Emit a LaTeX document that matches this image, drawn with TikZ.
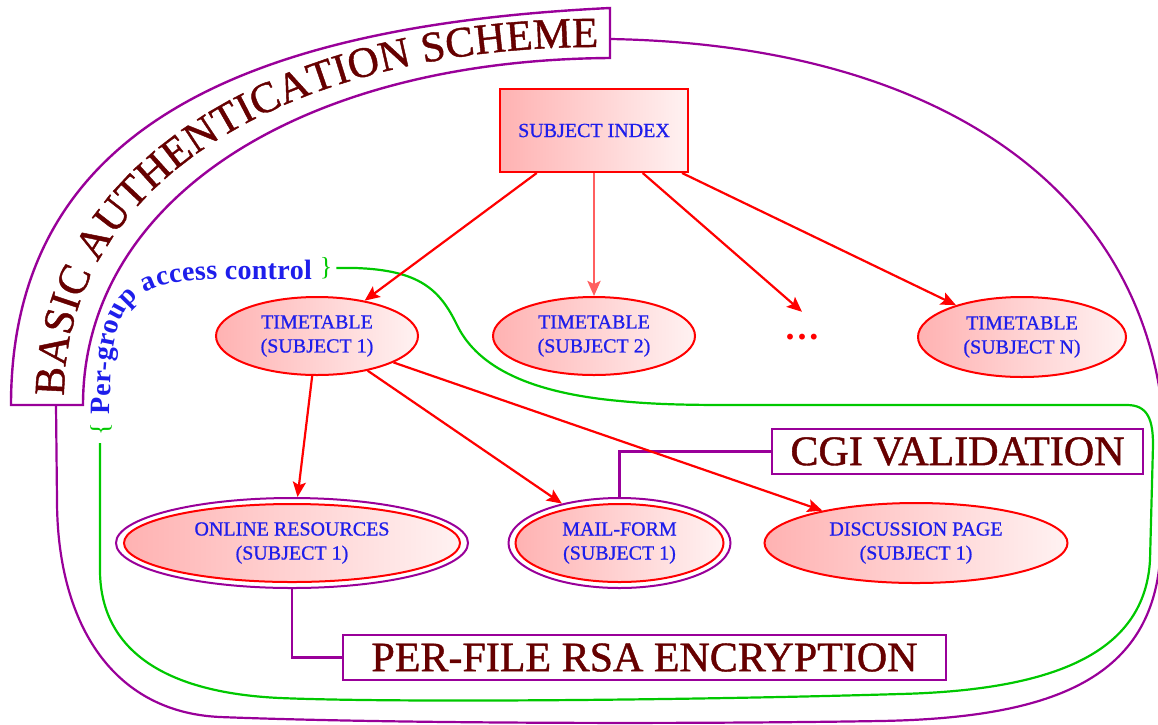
\documentclass[tikz,border=0pt]{standalone}
\usepackage{fontspec}
\setmainfont{Liberation Serif}
\newfontfamily\semibfont[FakeBold=0.8]{Liberation Serif}
\newfontfamily\heavyfont[FakeBold=1.0]{Liberation Serif}
\usetikzlibrary{arrows.meta,shapes.geometric,decorations.text}
\definecolor{myred}{RGB}{255,0,0}
\definecolor{lightarrow}{RGB}{255,95,95}
\definecolor{mypurple}{RGB}{153,0,153}
\definecolor{mygreen}{RGB}{0,200,0}
\definecolor{darkred}{RGB}{102,0,0}
\definecolor{txtblue}{RGB}{30,30,235}
\definecolor{pinkL}{RGB}{255,178,178}
\definecolor{pinkR}{RGB}{255,242,242}
\begin{document}
\begin{tikzpicture}[x=1pt,y={(0pt,-1pt)},
  nodetext/.style={text=txtblue, font=\semibfont\fontsize{20}{24}\selectfont, align=center},
  ellnode/.style={ellipse, draw=myred, line width=2pt, left color=pinkL, right color=pinkR, nodetext, inner sep=0pt},
  outerell/.style={ellipse, draw=mypurple, line width=2pt, fill=white, inner sep=0pt},
  arr/.style={draw=myred, line width=2.2pt, -{Stealth[length=15pt,width=13pt,inset=3pt]}},
  labelbox/.style={draw=mypurple, line width=2.4pt, text=darkred, font=\heavyfont\fontsize{42}{42}\selectfont, inner sep=0pt},
  plink/.style={draw=mypurple, line width=2.2pt},
  glink/.style={draw=mygreen, line width=2.2pt},
  brace/.style={text=mygreen, font=\fontsize{26}{26}\selectfont, inner sep=4pt}
]
\useasboundingbox (0,0) rectangle (1158,724);

% coordinates for free ends
\coordinate (bandR) at (610,39);
\coordinate (bandB) at (56,405);
\coordinate (gend) at (100,443);

% outer purple loop
\draw[plink] (bandR) .. controls (950,45) and (1160,200) .. (1165,450) -- (1160,560)
  .. controls (1150,680) and (1050,718) .. (880,721)
  .. controls (700,724) and (400,724) .. (220,717)
  .. controls (110,712) and (57,620) .. (57,500) -- (bandB);

% curved label band
\draw[plink, line width=2.4pt, fill=white] (11,405) .. controls (11,120) and (260,25) .. (610,8) -- (610,58)
  .. controls (300,60) and (83,200) .. (83,405) -- cycle;
\path[decorate, decoration={text along path,
  text={|\color{darkred}\heavyfont\fontsize{43}{43}\selectfont|BASIC AUTHENTICATION SCHEME},
  text align={fit to path}}]
  (64,396) .. controls (65,175) and (300,47) .. (598,47);

% per-group access control
\node[brace] (rbrace) at (326,268) {\}};
\node[brace, rotate=90] (lbrace) at (101,429) {\{};
\path[decorate, decoration={text along path,
  text={|\color{txtblue}\bfseries\fontsize{28}{28}\selectfont|Per-group access control},
  text align={fit to path}}]
  (110,414) .. controls (110,300) and (125,280) .. (230,279) -- (312,279);

\draw[glink] (rbrace.east) -- (355,268) .. controls (420,270) and (440,290) .. (457,325)
  .. controls (475,362) and (520,392) .. (620,401)
  .. controls (660,405) and (700,405) .. (740,405) -- (1127,405)
  .. controls (1148,405) and (1153,420) .. (1153,445) -- (1150,560)
  .. controls (1145,650) and (1060,690) .. (900,694)
  .. controls (700,700) and (400,703) .. (280,698)
  .. controls (150,692) and (100,640) .. (100,570) -- (gend);

% nodes
\node[rectangle, draw=myred, line width=2pt, left color=pinkL, right color=pinkR, nodetext,
  minimum width=188pt, minimum height=83pt] (si) at (594,130.5) {SUBJECT INDEX};
\node[ellnode, minimum width=202pt, minimum height=78pt] (t1) at (317,336) {TIMETABLE\\(SUBJECT 1)};
\node[ellnode, minimum width=202pt, minimum height=78pt] (t2) at (594,336) {TIMETABLE\\(SUBJECT 2)};
\node[text=myred, font=\bfseries\fontsize{36}{36}\selectfont, minimum height=50pt, inner sep=0pt] (dots) at (802,337) {.\kern3pt.\kern3pt.};
\node[ellnode, minimum width=208pt, minimum height=80pt] (tn) at (1022,337) {TIMETABLE\\(SUBJECT N)};

\node[outerell, minimum width=352pt, minimum height=90pt] (onlineO) at (292,543) {};
\node[ellnode, minimum width=336pt, minimum height=78pt] (online) at (292,543) {ONLINE RESOURCES\\(SUBJECT 1)};
\node[outerell, minimum width=222pt, minimum height=90pt] (mailO) at (619.5,543) {};
\node[ellnode, minimum width=208pt, minimum height=78pt] (mail) at (619.5,543) {MAIL-FORM\\(SUBJECT 1)};
\node[ellnode, minimum width=303pt, minimum height=80pt] (disc) at (916,543) {DISCUSSION PAGE\\(SUBJECT 1)};

\node[labelbox, minimum width=371pt, minimum height=45pt] (cgi) at (957.5,451.5) {CGI VALIDATION};
\node[labelbox, minimum width=603pt, minimum height=45pt] (per) at (644.5,657.5) {PER-FILE RSA ENCRYPTION};

% connectors
\draw[plink] (cgi.west) -| (mailO.north);
\draw[plink] (onlineO.south) |- (per.west);

\draw[arr] (si) -- (t1);
\draw[arr, draw=lightarrow, line width=2.6pt] (si) -- (t2);
\draw[arr] (si) -- (dots.north);
\draw[arr] (si) -- (tn);
\draw[arr] (t1) -- (onlineO);
\draw[arr] (t1) -- (mailO);
\draw[arr] (t1) -- (disc);
\end{tikzpicture}
\end{document}
